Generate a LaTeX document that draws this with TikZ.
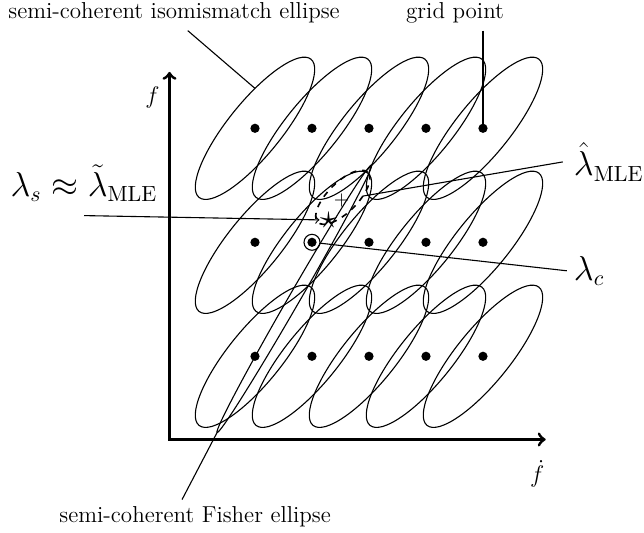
\documentclass[tikz,border=0pt]{standalone}
\usepackage{amsmath}
\usetikzlibrary{arrows.meta}

\begin{document}
\begin{tikzpicture}[line width=.55pt,>=to,
    txt/.style={font=\fontsize{11.5}{14}\selectfont},
    bigtxt/.style={font=\fontsize{16.2}{19}\selectfont},
    isoell/.style={x radius=1.56,y radius=.47}]
  \useasboundingbox (-2.974,-1.640) rectangle (8.325,7.711);

  % axes
  \draw[<->,line width=1.5pt] (0,6.45) |- (6.6,0);
  \node[txt] (flab) at (-.3,6.0) {$f$};
  \node[txt] (fdlab) at (6.45,-.6) {$\dot f$};

  % isomismatch ellipses round the grid points
  \foreach \i in {0,...,4}
    \foreach \j in {0,1,2}{
      \coordinate (g\i\j) at (\i+1.5,2*\j+1.46);
      \draw[rotate around={51:(g\i\j)}] (g\i\j) ellipse[isoell];
      \fill (g\i\j) circle (2.3pt);
    }

  % Fisher ellipse
  \coordinate (fish) at (2.19,2.47);
  \draw[rotate around={60:(fish)}] (fish) ellipse[x radius=2.71,y radius=.1];
  \coordinate (fishtip) at (.835,.123);

  % MLE and signal
  \coordinate (mlec) at (3.04,4.25);
  \draw[dashed,thick,rotate around={45:(mlec)}] (mlec)
    ellipse[x radius=.62,y radius=.26];
  \coordinate (mletip) at (3.39,4.27);
  \node[inner sep=0] (mle) at (3.02,4.19) {$+$};
  \node[font=\fontsize{18}{20}\selectfont,inner sep=0] (lams) at (2.79,3.85)
    {$\star$};
  \node[circle,draw,inner sep=0,minimum size=.28cm] (lamc) at (g11) {};
  \coordinate (isotip) at (1.5,6.16);

  % labels
  \node[txt] (isolab) at (.08,7.48) {semi-coherent isomismatch ellipse};
  \node[txt] (gridlab) at (5.01,7.48) {grid point};
  \node[txt] (fishlab) at (.45,-1.36) {semi-coherent Fisher ellipse};
  \node[bigtxt] (slab) at (-1.5,4.5)
    {$\lambda_s\approx\tilde\lambda_{\mathrm{MLE}}$};
  \node[bigtxt,anchor=west] (mlelab) at (6.97,4.87)
    {$\hat\lambda_{\mathrm{MLE}}$};
  \node[bigtxt,anchor=west] (clab) at (6.97,2.96) {$\lambda_c$};

  % leaders
  \draw ([xshift=.24cm]isolab.south) -- (isotip);
  \draw (gridlab.south -| g42) -- (g42);
  \draw ([xshift=-.23cm]fishlab.north) -- (fishtip);
  \draw[->] ([yshift=-.12cm]slab.south) -- (lams);
  \draw ([xshift=-2pt]mlelab.west) -- (mletip);
  \draw (clab.west) -- (lamc);
\end{tikzpicture}
\end{document}
